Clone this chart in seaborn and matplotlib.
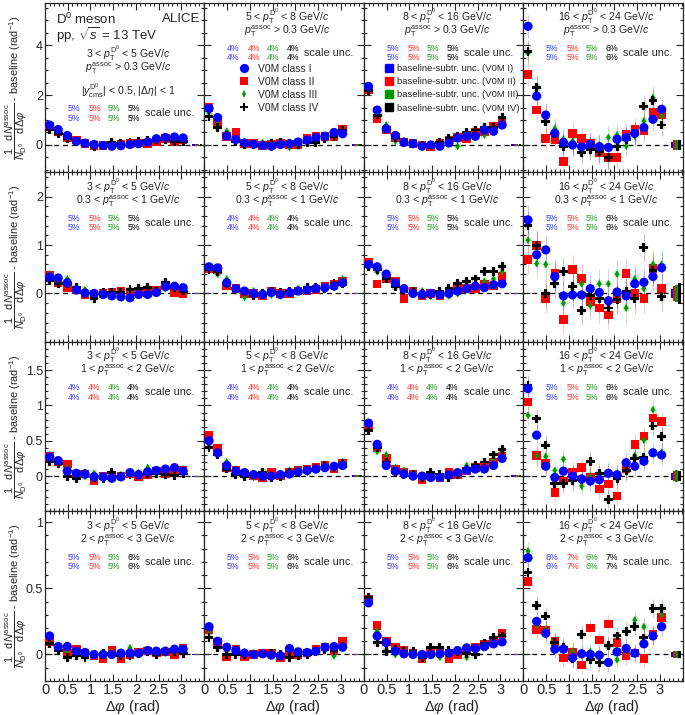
import numpy as np
import pandas as pd
import matplotlib
matplotlib.use("Agg")
import matplotlib.pyplot as plt
import seaborn as sns
from matplotlib.ticker import MultipleLocator
from matplotlib.lines import Line2D
from matplotlib.patches import Patch

# ---------------- data ----------------
DPHI = [0.10, 0.29, 0.49, 0.69, 0.88, 1.08, 1.28, 1.47, 1.67, 1.87, 2.06, 2.26, 2.45, 2.65, 2.85, 3.04]
CLASSES = ["V0M class I", "V0M class II", "V0M class III", "V0M class IV"]
DBINS = [["3", "5"], ["5", "8"], ["8", "16"], ["16", "24"]]
ASSOC = [r"$p_{\rm T}^{\rm assoc}$ > 0.3 GeV/$c$",
         r"0.3 < $p_{\rm T}^{\rm assoc}$ < 1 GeV/$c$",
         r"1 < $p_{\rm T}^{\rm assoc}$ < 2 GeV/$c$",
         r"2 < $p_{\rm T}^{\rm assoc}$ < 3 GeV/$c$"]

# values per panel: [class I, class II, class III, class IV]
P00 = [[0.80, 0.62, 0.38, 0.15, 0.07, 0.02, -0.02, -0.05, -0.03, 0.02, 0.05, 0.12, 0.25, 0.30, 0.32, 0.28],
       [0.75, 0.55, 0.30, 0.20, 0.05, -0.02, -0.03, 0.00, 0.03, 0.05, 0.08, 0.05, 0.15, 0.25, 0.15, 0.20],
       [0.70, 0.50, 0.35, 0.15, 0.08, -0.05, 0.00, 0.05, 0.00, 0.05, 0.10, 0.10, 0.20, 0.25, 0.30, 0.25],
       [0.60, 0.45, 0.25, 0.15, 0.05, -0.05, 0.00, 0.10, 0.05, 0.10, 0.15, 0.20, 0.20, 0.20, 0.15, 0.15]]
P01 = [[1.47, 1.10, 0.35, 0.22, 0.08, 0.03, -0.02, -0.05, 0.02, 0.05, 0.12, 0.20, 0.30, 0.35, 0.50, 0.45],
       [1.50, 0.90, 0.35, 0.50, 0.05, 0.05, -0.03, 0.02, 0.05, 0.02, 0.02, 0.25, 0.35, 0.35, 0.35, 0.62],
       [1.30, 0.85, 0.55, 0.25, 0.10, -0.03, 0.10, 0.05, 0.10, -0.10, -0.05, 0.15, 0.25, 0.25, 0.35, 0.55],
       [1.15, 0.70, 0.40, 0.15, 0.00, 0.02, 0.00, 0.05, 0.10, 0.05, 0.00, 0.10, 0.10, 0.25, 0.35, 0.60]]
P02 = [[2.35, 1.40, 0.65, 0.38, 0.10, 0.05, -0.05, 0.00, -0.05, 0.08, 0.28, 0.35, 0.35, 0.60, 0.55, 0.80],
       [2.20, 1.05, 0.60, 0.30, 0.12, 0.05, 0.00, -0.08, 0.05, 0.20, 0.30, 0.25, 0.50, 0.55, 0.75, 0.95],
       [2.25, 1.30, 0.80, 0.15, 0.18, 0.02, -0.03, 0.00, 0.05, 0.15, -0.05, 0.35, 0.45, 0.40, 0.60, 0.90],
       [2.20, 1.20, 0.65, 0.30, 0.10, 0.05, -0.03, 0.00, 0.10, 0.25, 0.35, 0.50, 0.60, 0.70, 0.70, 1.10]]
P03 = [[4.76, 1.96, 1.20, 0.47, 0.10, 0.00, -0.07, 0.03, -0.07, -0.10, 0.23, 0.30, 0.47, 0.70, 1.03, 1.43],
       [2.83, 1.40, 0.25, 0.23, -0.67, 0.47, 0.25, 0.05, -0.31, -0.50, -0.50, 0.43, 0.63, 0.56, 1.32, 1.23],
       [3.70, 2.30, 1.23, 0.65, 0.23, 0.15, -0.07, -0.10, 0.00, 0.30, 0.40, -0.04, 0.36, 0.96, 1.90, 1.16],
       [3.76, 2.30, 0.93, 0.47, -0.07, 0.00, -0.31, -0.17, -0.27, -0.50, -0.08, 0.23, 0.47, 1.56, 1.79, 0.80]]
P10 = [[0.34, 0.32, 0.22, 0.07, 0.01, 0.00, -0.02, -0.05, -0.07, -0.09, -0.02, -0.02, 0.02, 0.14, 0.15, 0.12],
       [0.37, 0.22, 0.12, 0.07, -0.03, -0.02, 0.00, 0.03, 0.05, 0.02, 0.03, 0.02, 0.06, 0.15, 0.02, 0.00],
       [0.40, 0.25, 0.30, 0.10, 0.08, 0.00, -0.04, 0.00, 0.00, 0.05, 0.05, 0.00, 0.03, 0.10, 0.15, 0.05],
       [0.27, 0.20, 0.20, 0.12, 0.00, -0.10, 0.02, 0.03, 0.02, 0.08, 0.10, 0.12, 0.05, 0.22, 0.12, 0.05]]
P11 = [[0.55, 0.53, 0.22, 0.10, 0.05, 0.00, -0.02, 0.02, -0.02, 0.02, 0.05, 0.07, 0.10, 0.12, 0.15, 0.22],
       [0.52, 0.50, 0.15, 0.10, 0.00, 0.00, -0.05, 0.05, 0.00, 0.00, 0.05, 0.05, 0.08, 0.15, 0.18, 0.25],
       [0.50, 0.40, 0.30, 0.05, -0.08, 0.05, 0.00, -0.03, -0.05, 0.00, 0.10, 0.05, 0.10, 0.12, 0.15, 0.30],
       [0.50, 0.45, 0.20, 0.10, 0.05, -0.05, 0.00, 0.05, 0.02, 0.05, 0.05, 0.12, 0.12, 0.10, 0.20, 0.20]]
P12 = [[0.60, 0.55, 0.40, 0.22, 0.10, 0.00, -0.02, 0.00, -0.03, 0.00, 0.05, 0.10, 0.15, 0.12, 0.18, 0.20],
       [0.65, 0.20, 0.30, 0.25, -0.10, 0.05, -0.05, 0.00, -0.05, 0.05, 0.15, 0.10, 0.10, 0.20, 0.15, 0.35],
       [0.60, 0.45, 0.35, 0.15, 0.10, 0.02, 0.05, -0.05, 0.00, -0.05, 0.00, 0.15, 0.20, 0.25, 0.30, 0.45],
       [0.55, 0.50, 0.30, 0.15, 0.05, 0.05, 0.00, -0.02, 0.05, 0.10, 0.20, 0.25, 0.30, 0.45, 0.45, 0.55]]
P13 = [[1.52, 0.80, 0.90, 0.35, -0.05, -0.03, -0.03, 0.10, 0.02, -0.15, 0.03, -0.05, 0.20, 0.23, 0.35, 0.53],
       [0.70, 0.99, -0.10, 0.41, -0.54, 0.49, 0.31, -0.16, -0.30, -0.44, -0.10, 0.41, 0.00, -0.10, 0.51, 0.10],
       [1.10, 0.62, 0.60, 0.30, -0.20, 0.15, 0.20, -0.25, 0.20, 0.20, 0.40, -0.30, 0.30, 0.10, 0.60, 0.60],
       [1.40, 0.99, 0.00, 0.20, 0.45, 0.15, -0.35, -0.05, -0.10, -0.30, -0.12, 0.05, -0.10, 0.95, 0.48, -0.07]]
P20 = [[0.27, 0.22, 0.07, 0.04, 0.03, -0.01, -0.01, -0.03, -0.01, 0.05, 0.02, 0.06, 0.08, 0.10, 0.12, 0.07],
       [0.28, 0.20, 0.17, 0.02, 0.03, -0.06, 0.00, -0.01, 0.00, 0.03, -0.01, 0.02, 0.07, 0.03, 0.06, 0.08],
       [0.30, 0.20, 0.12, 0.04, -0.01, 0.04, 0.00, 0.02, 0.02, 0.01, 0.05, 0.12, 0.08, 0.06, 0.13, 0.10],
       [0.20, 0.18, 0.00, -0.04, 0.04, -0.02, -0.03, 0.05, 0.00, 0.02, 0.02, 0.03, 0.03, 0.02, 0.01, 0.03]]
P21 = [[0.50, 0.33, 0.15, 0.07, 0.05, 0.02, 0.00, 0.00, 0.02, 0.03, 0.06, 0.08, 0.10, 0.12, 0.14, 0.15],
       [0.58, 0.40, 0.12, 0.08, 0.03, 0.00, -0.02, 0.05, 0.00, 0.05, 0.08, 0.10, 0.12, 0.15, 0.10, 0.18],
       [0.45, 0.35, 0.20, 0.10, 0.00, -0.02, 0.05, 0.02, 0.03, 0.08, 0.10, 0.05, 0.10, 0.12, 0.12, 0.20],
       [0.40, 0.30, 0.10, 0.02, 0.00, 0.03, 0.05, -0.02, 0.00, 0.05, 0.05, 0.08, 0.10, 0.15, 0.12, 0.18]]
P22 = [[0.75, 0.45, 0.15, 0.07, 0.03, 0.00, 0.00, -0.02, -0.02, 0.02, 0.05, 0.08, 0.10, 0.10, 0.15, 0.25],
       [0.70, 0.40, 0.25, 0.10, 0.05, 0.02, -0.05, 0.00, -0.02, 0.05, 0.02, 0.07, 0.12, 0.15, 0.20, 0.28],
       [0.75, 0.35, 0.30, 0.12, 0.08, 0.02, 0.00, 0.02, 0.00, 0.00, 0.05, 0.15, 0.12, 0.10, 0.25, 0.35],
       [0.65, 0.40, 0.20, 0.05, 0.02, 0.02, -0.02, 0.05, 0.03, -0.02, 0.02, 0.10, 0.15, 0.20, 0.30, 0.38]]
P23 = [[1.24, 0.58, 0.14, -0.02, 0.07, 0.00, -0.04, -0.07, -0.05, 0.04, 0.02, 0.19, 0.14, 0.21, 0.33, 0.30],
       [1.05, 0.29, 0.18, -0.23, -0.07, 0.06, 0.12, -0.02, -0.18, -0.11, -0.28, 0.10, 0.45, 0.57, 0.82, 0.77],
       [0.86, 0.29, 0.28, 0.08, 0.24, 0.00, -0.14, 0.00, 0.02, 0.04, 0.02, 0.07, 0.29, 0.51, 0.94, 0.34],
       [1.29, 0.81, 0.44, -0.11, -0.10, -0.06, -0.05, 0.21, 0.04, -0.33, -0.04, 0.08, 0.25, 0.26, 0.71, 0.56]]
P30 = [[0.14, 0.06, 0.06, 0.025, 0.015, 0.00, 0.00, 0.00, 0.01, 0.01, 0.01, 0.03, 0.025, 0.025, 0.04, 0.04],
       [0.10, 0.05, 0.01, 0.04, 0.01, -0.01, -0.03, 0.03, -0.03, 0.00, 0.02, 0.025, 0.01, 0.02, 0.00, 0.05],
       [0.12, 0.05, 0.02, 0.01, -0.01, 0.00, -0.01, 0.02, 0.00, 0.05, 0.00, 0.02, 0.02, 0.01, 0.02, 0.03],
       [0.08, 0.03, -0.02, -0.01, -0.02, 0.00, 0.01, 0.00, -0.01, -0.01, 0.01, 0.02, 0.00, 0.02, 0.02, 0.01]]
P31 = [[0.21, 0.10, 0.055, 0.03, 0.01, 0.00, 0.005, -0.005, -0.01, 0.045, 0.02, 0.015, 0.025, 0.055, 0.06, 0.055],
       [0.19, 0.09, -0.02, 0.04, -0.02, 0.00, 0.01, 0.01, -0.025, 0.00, -0.005, 0.01, 0.04, 0.055, 0.03, 0.10],
       [0.17, 0.08, 0.03, 0.02, 0.02, 0.01, 0.00, 0.00, 0.00, -0.01, 0.00, 0.00, 0.02, 0.05, -0.01, 0.06],
       [0.13, 0.05, 0.00, 0.00, 0.00, 0.00, 0.01, 0.01, 0.00, -0.02, -0.01, 0.00, 0.02, 0.04, 0.03, 0.06]]
P32 = [[0.39, 0.14, 0.09, 0.025, 0.005, 0.00, 0.00, 0.00, 0.005, 0.01, 0.03, 0.05, 0.045, 0.06, 0.08, 0.095],
       [0.42, 0.22, 0.10, 0.055, 0.03, 0.01, -0.03, 0.01, 0.01, -0.03, 0.00, 0.025, 0.055, 0.075, 0.11, 0.16],
       [0.41, 0.18, 0.03, 0.00, 0.00, 0.01, 0.00, 0.00, -0.02, 0.00, 0.03, -0.02, 0.04, 0.07, 0.10, 0.15],
       [0.43, 0.09, 0.02, 0.04, 0.02, 0.02, -0.02, 0.05, 0.05, 0.03, 0.02, 0.01, 0.00, 0.08, 0.13, 0.14]]
P33 = [[0.73, 0.25, 0.16, 0.04, 0.04, -0.025, 0.005, 0.00, -0.005, -0.06, 0.02, 0.045, 0.01, 0.08, 0.14, 0.21],
       [0.55, 0.19, 0.18, 0.10, -0.025, 0.02, -0.08, 0.20, 0.11, 0.23, 0.09, -0.01, 0.01, -0.03, 0.15, 0.28],
       [0.78, 0.22, 0.19, 0.08, 0.04, 0.025, 0.01, 0.02, -0.025, 0.06, -0.04, 0.025, 0.26, 0.21, 0.14, 0.30],
       [0.62, 0.37, 0.29, 0.09, 0.055, -0.03, 0.15, -0.04, -0.06, 0.07, 0.14, 0.175, 0.21, 0.125, 0.35, 0.35]]

PANELS = [[P00, P01, P02, P03], [P10, P11, P12, P13], [P20, P21, P22, P23], [P30, P31, P32, P33]]

# statistical uncertainty (typical, per panel) and systematic box half-height
STAT = [[0.06, 0.08, 0.12, 0.45], [0.04, 0.05, 0.07, 0.30], [0.02, 0.03, 0.04, 0.14], [0.01, 0.015, 0.02, 0.07]]
SYST = [0.15, 0.075, 0.05, 0.028]
# baseline-subtraction uncertainty (half height) per class
BASE = [[[0.03] * 4, [0.03] * 4, [0.04] * 4, [0.12, 0.20, 0.20, 0.20]],
        [[0.015] * 4, [0.015] * 4, [0.02] * 4, [0.10, 0.15, 0.17, 0.22]],
        [[0.008] * 4, [0.01] * 4, [0.01] * 4, [0.05, 0.07, 0.08, 0.07]],
        [[0.004] * 4, [0.004] * 4, [0.005] * 4, [0.02, 0.025, 0.025, 0.025]]]
BASE_X = [3.27, 3.32, 3.37, 3.43]

SCALE = [[[5, 5, 5, 5], [4, 4, 4, 4], [5, 5, 5, 5], [5, 5, 5, 6]],
         [[5, 5, 5, 5], [4, 4, 4, 4], [5, 5, 5, 5], [5, 5, 5, 6]],
         [[4, 4, 4, 4], [4, 4, 4, 4], [4, 4, 4, 4], [5, 5, 5, 6]],
         [[5, 5, 5, 6], [5, 5, 5, 6], [5, 5, 5, 6], [6, 7, 6, 7]]]

YLIMS = [(-1.1, 5.7), (-1.0, 2.5), (-0.5, 1.9), (-0.2, 1.08)]
YTICKS = [[0, 2, 4], [0, 1, 2], [0, 0.5, 1, 1.5], [0, 0.5, 1]]
YTLAB = [["0", "2", "4"], ["0", "1", "2"], ["0", "0.5", "1", "1.5"], ["0", "0.5", "1"]]
YMINOR = [0.5, 0.2, 0.1, 0.1]
XTICKS = [0, 0.5, 1, 1.5, 2, 2.5, 3]
XTLAB = ["0", "0.5", "1", "1.5", "2", "2.5", "3"]

# ---------------- style ----------------
sns.set_theme(style="ticks")
plt.rcParams['font.family'] = ['Liberation Sans', 'DejaVu Sans']
plt.rcParams['mathtext.fontset'] = 'custom'
plt.rcParams['mathtext.rm'] = 'Liberation Sans'
plt.rcParams['mathtext.it'] = 'Liberation Sans:italic'
plt.rcParams['mathtext.bf'] = 'Liberation Sans:bold'
plt.rcParams['axes.linewidth'] = 0.9

COL = {"V0M class I": "#0000ff", "V0M class II": "#ff0000",
       "V0M class III": "#009a00", "V0M class IV": "#000000"}
TXTCOL = ["#3a3aff", "#ff3030", "#1f9f1f", "#000000"]
MRK = {"V0M class I": "o", "V0M class II": "s", "V0M class III": "d", "V0M class IV": "P"}
SIZ = {"V0M class I": 44, "V0M class II": 38, "V0M class III": 16, "V0M class IV": 40}
DRAW_ORDER = [1, 2, 3, 0]

fig = plt.figure(figsize=(6.85, 7.15), dpi=100)
axes = fig.subplots(4, 4, sharey='row',
                    gridspec_kw=dict(left=0.0657, right=0.997, top=0.996, bottom=0.0476,
                                     hspace=0, wspace=0))

ylab = (r"$\dfrac{1}{N_{\rm D^{0}}}\,\dfrac{{\rm d}N^{\rm assoc}}{{\rm d}\Delta\varphi}$"
        r" - baseline (rad$^{-1}$)")

for r in range(4):
    for c in range(4):
        ax = axes[r, c]
        vals = PANELS[r][c]
        rows = []
        for k in DRAW_ORDER:
            for x, v in zip(DPHI, vals[k]):
                rows.append({"dphi": x, "val": v, "cls": CLASSES[k]})
        df = pd.DataFrame(rows)

        ax.axhline(0, ls=(0, (4, 3)), color='black', lw=0.9, zorder=0)
        for k in DRAW_ORDER:
            col = COL[CLASSES[k]]
            y = np.array(vals[k])
            ax.bar(DPHI, 2 * SYST[r], bottom=y - SYST[r], width=0.13, color=col,
                   alpha=0.13, lw=0, zorder=1)
            ax.errorbar(DPHI, y, yerr=STAT[r][c], xerr=0.098, fmt='none', ecolor=col,
                        alpha=0.22, elinewidth=0.8, zorder=2)
        sns.scatterplot(data=df, x="dphi", y="val", hue="cls", style="cls", size="cls",
                        palette=COL, markers=MRK, sizes=SIZ, hue_order=CLASSES,
                        style_order=CLASSES, size_order=CLASSES,
                        linewidth=0, legend=False, ax=ax, zorder=3)
        bu = np.array(BASE[r][c])
        ax.bar(BASE_X, 2 * bu, bottom=-bu, width=0.055,
               color=[COL[cl] for cl in CLASSES], lw=0, zorder=3)

        ax.set_xlim(0, 3.51)
        ax.set_ylim(*YLIMS[r])
        ax.set_xticks(XTICKS)
        ax.xaxis.set_minor_locator(MultipleLocator(0.1))
        ax.set_yticks(YTICKS[r])
        ax.yaxis.set_minor_locator(MultipleLocator(YMINOR[r]))
        ax.tick_params(which='both', direction='in', top=True, right=True, width=0.8)
        ax.tick_params(which='major', length=5)
        ax.tick_params(which='minor', length=2.5)
        ax.set_xlabel("")
        ax.set_ylabel("")
        if r == 3:
            ax.set_xticklabels(XTLAB, fontsize=10.5)
            ax.set_xlabel(r"$\Delta\varphi$ (rad)", fontsize=10.5)
            ax.xaxis.set_label_coords(0.55, -0.102)
        else:
            ax.set_xticklabels([])
        if c == 0:
            ax.set_yticklabels(YTLAB[r], fontsize=9)
        ax.tick_params(axis='y', pad=1.5)
        ax.tick_params(axis='x', pad=1.5)

        # panel annotations
        lo, hi = DBINS[c]
        t1 = lo + r" < $p_{\rm T}^{\rm D^0}$ < " + hi + r" GeV/$c$"
        if r == 0 and c == 0:
            y1, y2, ys1, ys2 = 0.70, 0.615, 0.375, 0.32
        else:
            y1, y2, ys1, ys2 = 0.915, 0.83, 0.73, 0.675
        ax.text(0.52, y1, t1, transform=ax.transAxes, ha='center', va='center', fontsize=7.6)
        ax.text(0.52, y2, ASSOC[r], transform=ax.transAxes, ha='center', va='center', fontsize=7.6)
        for j, xp in enumerate([0.18, 0.31, 0.43, 0.555]):
            for yy in (ys1, ys2):
                ax.text(xp, yy, f"{SCALE[r][c][j]}%", transform=ax.transAxes, ha='center',
                        va='center', fontsize=6.3, color=TXTCOL[j])
        ax.text(0.625, (ys1 + ys2) / 2, "scale unc.", transform=ax.transAxes, ha='left',
                va='center', fontsize=7.8)

# y labels, one per row
for r in range(4):
    bb = axes[r, 0].get_position()
    fig.text(0.0235, (bb.y0 + bb.y1) / 2, ylab, rotation=90, ha='center', va='center',
             fontsize=7.9)

# extra text in first panel
a0 = axes[0, 0]
a0.text(0.07, 0.905, r"D$^0$ meson", transform=a0.transAxes, fontsize=9.5, va='center')
a0.text(0.07, 0.81, r"pp, $\sqrt{s}$ = 13 TeV", transform=a0.transAxes, fontsize=9.5, va='center')
a0.text(0.975, 0.905, "ALICE", transform=a0.transAxes, fontsize=9.5, va='center', ha='right')
a0.text(0.52, 0.48, r"$|y^{\rm D^0}_{\rm cms}|$ < 0.5, $|\Delta\eta|$ < 1", transform=a0.transAxes,
        fontsize=7.6, ha='center', va='center')

# legends
a1 = axes[0, 1]
h1 = [Line2D([], [], ls='none', marker=MRK[cl], color=COL[cl], markeredgewidth=0,
             markersize=np.sqrt(SIZ[cl])) for cl in CLASSES]
a1.legend(h1, CLASSES, loc='upper left', bbox_to_anchor=(0.2, 0.64), frameon=False,
          fontsize=7.4, handlelength=1.5, handletextpad=0.6, labelspacing=0.28,
          borderaxespad=0, borderpad=0)
a2 = axes[0, 2]
h2 = [Patch(color=COL[cl]) for cl in CLASSES]
l2 = ["baseline-subtr. unc. (V0M I)", "baseline-subtr. unc. (V0M II)",
      "baseline-subtr. unc. (V0M III)", "baseline-subtr. unc. (V0M IV)"]
a2.legend(h2, l2, loc='upper left', bbox_to_anchor=(0.13, 0.64), frameon=False,
          fontsize=6.8, handlelength=0.9, handleheight=0.9, handletextpad=0.4,
          labelspacing=0.42, borderaxespad=0, borderpad=0)

fig.savefig("out.png", dpi=100, facecolor='white')
